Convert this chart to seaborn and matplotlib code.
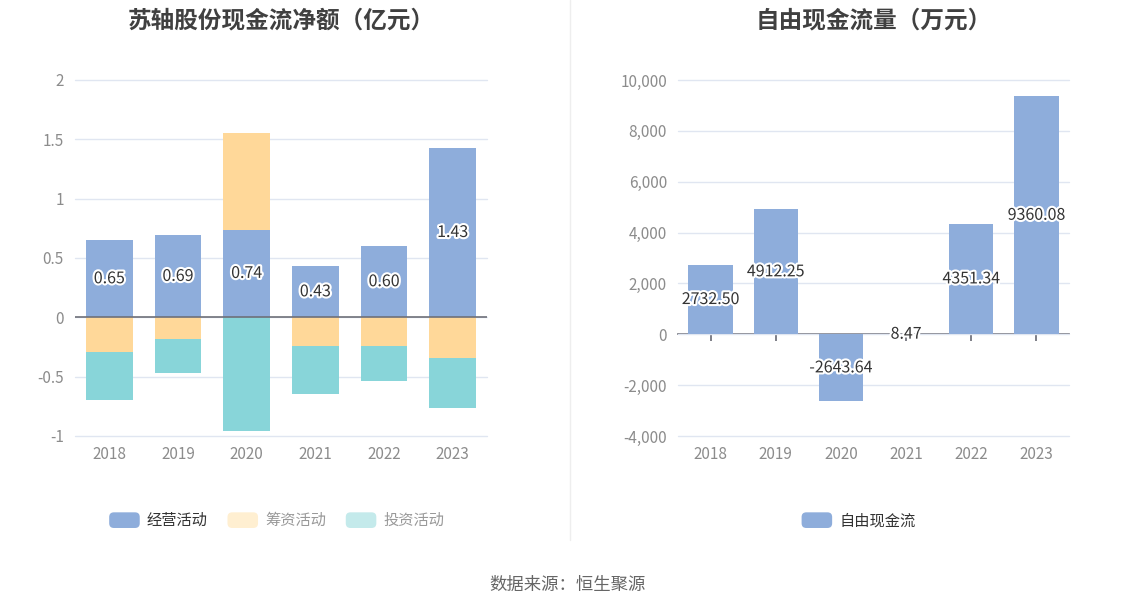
import matplotlib
matplotlib.use("Agg")
import matplotlib.pyplot as plt
import matplotlib.patheffects as pe
from matplotlib.lines import Line2D
from matplotlib.patches import Patch, FancyBboxPatch
from matplotlib.legend_handler import HandlerPatch
from matplotlib.ticker import FuncFormatter
import numpy as np
import pandas as pd
import seaborn as sns

# ---- data ----
years = ['2018', '2019', '2020', '2021', '2022', '2023']
operating = [0.65, 0.69, 0.74, 0.43, 0.60, 1.43]     # 经营活动 (亿元)
financing = [-0.29, -0.18, 0.81, -0.24, -0.24, -0.34]  # 筹资活动
investing = [-0.41, -0.29, -0.96, -0.41, -0.30, -0.42]  # 投资活动
fcf = [2732.50, 4912.25, -2643.64, 8.47, 4351.34, 9360.08]  # 自由现金流 (万元)

series_names = ['经营活动', '筹资活动', '投资活动']
bar_colors = ['#8EADDB', '#FFD899', '#88D5D9']
legend_colors = ['#8EADDB', '#FFEFD1', '#C4EAEB']
legend_text = ['#333333', '#999999', '#999999']


class RoundHandler(HandlerPatch):
    # rounded legend swatch like the echarts one
    def create_artists(self, legend, orig_handle, xdescent, ydescent,
                       width, height, fontsize, trans):
        p = FancyBboxPatch((-xdescent, -ydescent), width, height,
                           boxstyle='round,pad=0,rounding_size=%f' % (height * 0.3),
                           facecolor=orig_handle.get_facecolor(), edgecolor='none',
                           transform=trans)
        return [p]


sns.set_theme(style="white")
plt.rcParams['font.family'] = ['Noto Sans CJK SC', 'DejaVu Sans']
plt.rcParams['axes.unicode_minus'] = False

fig = plt.figure(figsize=(11.34, 6.12), dpi=100)
ax1 = fig.add_axes([0.0661, 0.2876, 0.3633, 0.5817])
ax2 = fig.add_axes([0.5979, 0.2876, 0.3448, 0.5817])

grid_c = '#E0E6F1'
tick_c = '#8C8C8C'
axis_c = '#6E7079'
halo = [pe.withStroke(linewidth=3, foreground='white')]

# ---- left: stacked cash flows ----
pos_base = np.zeros(len(years))
neg_base = np.zeros(len(years))
for name, vals, col in zip(series_names, [operating, financing, investing], bar_colors):
    vals = np.array(vals)
    bottom = np.where(vals >= 0, pos_base, neg_base)
    df = pd.DataFrame({'year': years, 'value': vals})
    sns.barplot(data=df, x='year', y='value', color=col, saturation=1,
                width=0.68, errorbar=None, bottom=bottom, ax=ax1,
                linewidth=0)
    pos_base = pos_base + np.where(vals >= 0, vals, 0)
    neg_base = neg_base + np.where(vals < 0, vals, 0)

ax1.bar_label(ax1.containers[0], labels=[f'{v:.2f}' for v in operating],
              label_type='center', fontsize=11.5, color='#333333', path_effects=halo)
ax1.set_ylim(-1, 2)
ax1.set_yticks([-1, -0.5, 0, 0.5, 1, 1.5, 2])
ax1.yaxis.set_major_formatter(FuncFormatter(lambda v, p: f'{v:g}'))
ax1.axhline(0, color=axis_c, lw=1.2, zorder=3)
ax1.set_title('苏轴股份现金流净额（亿元）', fontsize=17, fontweight='bold',
              color='#404040', pad=38)

# ---- right: free cash flow ----
df2 = pd.DataFrame({'year': years, 'value': fcf})
sns.barplot(data=df2, x='year', y='value', color='#8EADDB', saturation=1,
            width=0.68, errorbar=None, ax=ax2, linewidth=0)
ax2.bar_label(ax2.containers[0], labels=[f'{v:.2f}' for v in fcf],
              label_type='center', fontsize=11.5, color='#333333', path_effects=halo)
ax2.set_ylim(-4000, 10000)
ax2.set_yticks(range(-4000, 10001, 2000))
ax2.yaxis.set_major_formatter(FuncFormatter(lambda v, p: f'{int(v):,}'))
ax2.set_title('自由现金流量（万元）', fontsize=17, fontweight='bold',
              color='#404040', pad=38)
zero_ax = ax2.secondary_xaxis(4000 / 14000)
zero_ax.set_xticks(range(len(years)))
zero_ax.tick_params(axis='x', direction='out', length=5, color=axis_c,
                    labelbottom=False, labeltop=False)
zero_ax.spines['bottom'].set_color(axis_c)
zero_ax.spines['bottom'].set_linewidth(1.2)
zero_ax.spines['top'].set_visible(False)

for ax in (ax1, ax2):
    ax.set_xlabel('')
    ax.set_ylabel('')
    ax.grid(axis='y', color=grid_c, lw=1)
    ax.set_axisbelow(True)
    for gl in ax.get_ygridlines():
        gl.set_clip_on(False)
    for s in ax.spines.values():
        s.set_visible(False)
    ax.tick_params(axis='both', length=0, labelsize=11, labelcolor=tick_c)
    ax.tick_params(axis='y', pad=8)
    ax.tick_params(axis='x', pad=7)

# legends
h1 = [Patch(facecolor=c, edgecolor='none') for c in legend_colors]
lg1 = fig.legend(h1, series_names, loc='center', bbox_to_anchor=(0.244, 0.149),
                 ncol=3, frameon=False, fontsize=11, handlelength=2.0,
                 handleheight=1.2, handletextpad=0.45, columnspacing=1.3,
                 handler_map={Patch: RoundHandler()})
for t, c in zip(lg1.get_texts(), legend_text):
    t.set_color(c)
lg2 = fig.legend([Patch(facecolor='#8EADDB', edgecolor='none')], ['自由现金流'],
                 loc='center', bbox_to_anchor=(0.757, 0.149), frameon=False,
                 fontsize=11, handlelength=2.0, handleheight=1.2, handletextpad=0.45,
                 handler_map={Patch: RoundHandler()})
lg2.get_texts()[0].set_color('#333333')

fig.add_artist(Line2D([0.5026, 0.5026], [1.0, 1 - 540 / 612], color='#EEEEEE', lw=1))
fig.text(0.5, 1 - 585 / 612, '数据来源：恒生聚源', ha='center', va='center',
         fontsize=12.5, color='#666666')

fig.savefig('out.png', dpi=100, facecolor='white')
